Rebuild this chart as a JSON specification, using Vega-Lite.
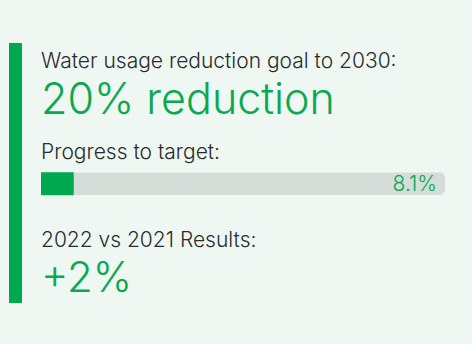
{
  "$schema": "https://vega.github.io/schema/vega-lite/v6.json",
  "background": "#eef7f2",
  "padding": {"left": 9, "top": 43, "right": 27, "bottom": 41},
  "autosize": {"type": "pad"},
  "config": {
    "view": {"stroke": null},
    "font": "Inter",
    "concat": {"spacing": 19}
  },
  "hconcat": [
    {
      "width": 13,
      "height": 260,
      "view": {"fill": "#00a94f", "stroke": null},
      "data": {"values": [{"text": ""}]},
      "mark": {"type": "text"},
      "encoding": {"text": {"field": "text"}}
    },
    {
      "width": 404,
      "height": 260,
      "data": {
        "values": [
          {"row": "goal_label", "text": "Water usage reduction goal to 2030:"},
          {"row": "goal_value", "text": "20% reduction"},
          {"row": "progress_label", "text": "Progress to target:"},
          {"row": "progress_bar", "target": 100, "progress": 8.1, "text": "8.1%"},
          {"row": "results_label", "text": "2022 vs 2021 Results:"},
          {"row": "results_value", "text": "+2%"}
        ]
      },
      "encoding": {
        "y": {
          "field": "row",
          "type": "nominal",
          "scale": {
            "type": "point",
            "padding": 0.5,
            "domain": ["goal_label", "goal_value", "progress_label", "progress_bar", "results_label", "results_value"]
          },
          "axis": null
        }
      },
      "layer": [
        {
          "transform": [{"filter": "datum.row === 'goal_label'"}],
          "mark": {"type": "text", "align": "left", "baseline": "middle", "fontSize": 21, "fontWeight": 300, "color": "#2b2b2b", "dy": -3},
          "encoding": {
            "x": {"datum": 0, "type": "quantitative", "scale": {"domain": [0, 100]}, "axis": null},
            "text": {"field": "text"}
          }
        },
        {
          "transform": [{"filter": "datum.row === 'goal_value'"}],
          "mark": {"type": "text", "align": "left", "baseline": "middle", "fontSize": 43, "fontWeight": 300, "color": "#0aa84f", "dy": -7},
          "encoding": {
            "x": {"datum": 0, "type": "quantitative"},
            "text": {"field": "text"}
          }
        },
        {
          "transform": [{"filter": "datum.row === 'progress_label'"}],
          "mark": {"type": "text", "align": "left", "baseline": "middle", "fontSize": 21, "fontWeight": 300, "color": "#2b2b2b", "dy": 2},
          "encoding": {
            "x": {"datum": 0, "type": "quantitative"},
            "text": {"field": "text"}
          }
        },
        {
          "transform": [{"filter": "datum.row === 'progress_bar'"}],
          "mark": {"type": "bar", "height": 23, "yOffset": -11, "color": "#d5ddd8", "cornerRadiusEnd": 6},
          "encoding": {
            "x": {"field": "target", "type": "quantitative"}
          }
        },
        {
          "transform": [{"filter": "datum.row === 'progress_bar'"}],
          "mark": {"type": "bar", "height": 23, "yOffset": -11, "color": "#00a94f"},
          "encoding": {
            "x": {"field": "progress", "type": "quantitative"}
          }
        },
        {
          "transform": [{"filter": "datum.row === 'progress_bar'"}],
          "mark": {"type": "text", "align": "right", "baseline": "middle", "fontSize": 21, "fontWeight": 300, "color": "#0aa84f", "dx": -8, "dy": -10},
          "encoding": {
            "x": {"field": "target", "type": "quantitative"},
            "text": {"field": "text"}
          }
        },
        {
          "transform": [{"filter": "datum.row === 'results_label'"}],
          "mark": {"type": "text", "align": "left", "baseline": "middle", "fontSize": 21, "fontWeight": 300, "color": "#2b2b2b", "dy": 3},
          "encoding": {
            "x": {"datum": 0, "type": "quantitative"},
            "text": {"field": "text"}
          }
        },
        {
          "transform": [{"filter": "datum.row === 'results_value'"}],
          "mark": {"type": "text", "align": "left", "baseline": "middle", "fontSize": 42, "fontWeight": 300, "color": "#0aa84f", "dy": -2},
          "encoding": {
            "x": {"datum": 0, "type": "quantitative"},
            "text": {"field": "text"}
          }
        }
      ]
    }
  ]
}
